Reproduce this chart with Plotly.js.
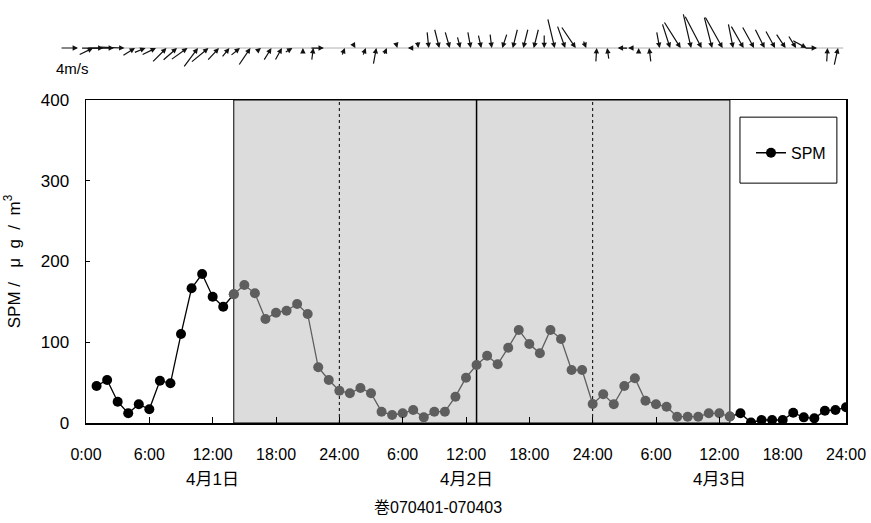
<!DOCTYPE html>
<html>
<head>
<meta charset="utf-8">
<script src="https://cdn.plot.ly/plotly-3.0.1.min.js"></script>
<style>html,body{margin:0;padding:0;background:#fff;}#chart{width:871px;height:523px;}</style>
</head>
<body>
<div id="chart"></div>
<script>
// ---- data ----
const hours = [1,2,3,4,5,6,7,8,9,10,11,12,13,14,15,16,17,18,19,20,21,22,23,24,
               25,26,27,28,29,30,31,32,33,34,35,36,37,38,39,40,41,42,43,44,45,46,47,48,
               49,50,51,52,53,54,55,56,57,58,59,60,61,62,63,64,65,66,67,68,69,70,71,72];
const spm = [45.8,53.3,26.4,12.1,23.2,17.0,52.4,49.2,110.2,166.8,184.5,156.4,144.0,159.4,170.9,160.6,128.8,136.6,139.0,147.4,135.0,69.0,53.3,40.0,
             36.8,43.3,36.8,14.0,9.9,12.0,16.1,7.0,14.0,14.0,32.6,56.1,71.8,83.3,72.7,93.3,115.2,97.8,86.3,115.2,104.0,65.6,65.6,23.5,
             35.5,23.2,45.8,55.4,27.6,23.2,20.2,7.8,7.8,7.8,12.0,12.0,8.0,12.0,0.5,3.7,3.7,3.7,12.8,7.0,5.8,15.2,16.1,19.4];
// wind components (m/s), east (u) and north (v)
const windU = [3.3,5.1,6.0,5.6,2.9,2.7,3.3,3.3,3.3,3.8,3.3,4.0,2.7,1.8,2.2,2.7,1.1,1.8,1.6,1.8,0.0,0.4,3.1,0.0,
               0.7,0.4,0.7,0.7,0.7,0.2,-0.9,0.2,0.4,1.1,1.1,0.7,0.7,0.7,0.4,-1.1,-1.1,-1.1,-1.1,0.0,1.6,1.8,3.3,0.7,
               0.2,-0.4,-2.4,-1.1,0.0,-0.4,0.7,1.8,3.8,1.8,3.8,1.8,4.0,1.1,2.9,2.7,2.2,2.2,2.2,1.8,3.3,2.9,0.2,0.9];
const windV = [1.6,0.0,0.0,-0.2,1.8,1.1,1.6,3.3,2.9,2.7,4.4,3.3,2.9,2.2,1.8,4.0,0.9,2.9,2.9,1.1,1.1,2.9,0.0,0.4,
               1.8,-0.7,1.8,3.8,1.6,-0.7,0.0,-1.6,-3.8,-4.4,-3.8,-2.7,-3.8,-3.1,-3.3,-3.3,-4.4,-4.4,-4.4,-3.1,-6.7,-5.1,-4.9,-1.8,
               3.3,2.7,0.0,0.0,0.7,3.3,-3.8,-5.6,-6.0,-7.8,-7.3,-7.1,-7.1,-5.6,-5.1,-4.9,-4.4,-4.0,-3.3,-2.9,-1.8,0.0,3.3,4.0];
const refWind = 4; // m/s reference arrow
const refLabel = '4m/s';
const tickHours = [0,6,12,18,24,30,36,42,48,54,60,66,72];
const tickLabels = ['0:00','6:00','12:00','18:00','24:00','6:00','12:00','18:00','24:00','6:00','12:00','18:00','24:00'];
const dayHours = [12,36,60];
const dayLabels = ['4月1日','4月2日','4月3日'];
const yTicks = [0,100,200,300,400];
const shadeStart = 14, shadeEnd = 61;
const dottedLines = [24,48];
const solidLines = [37];
const seriesName = 'SPM';
const yTitle = 'SPM\u00a0/\u00a0\u00a0\u00a0\u03bc\u00a0\u00a0g\u00a0\u00a0/\u00a0\u00a0m<sup>3</sup>';
const caption = '巻070401-070403';

// ---- style ----
const FONT = "'Liberation Sans', Arial, 'Noto Sans CJK JP', sans-serif";
const GRAY = '#5e5e5e';
const PXPERMS = 4.5;

const colors = hours.map(h => (h >= shadeStart && h <= shadeEnd) ? GRAY : '#000');
function seg(a, b, lc, show) {
  const idx = hours.map((h,i)=>i).filter(i => hours[i] >= a && hours[i] <= b);
  return {
    x: idx.map(i=>hours[i]), y: idx.map(i=>spm[i]),
    type:'scatter', mode:'lines+markers', name: seriesName, showlegend: show,
    line:{color: lc, width:1.3},
    marker:{color: idx.map(i=>colors[i]), size:10, line:{width:0}},
    xaxis:'x', yaxis:'y', hoverinfo:'skip'
  };
}
const traces = [
  seg(hours[0], shadeStart, '#000', true),
  seg(shadeStart, shadeEnd, GRAY, false),
  seg(shadeEnd, hours[hours.length-1], '#000', false),
  {x:[0.5, 72.5], y:[0,0], type:'scatter', mode:'lines', line:{color:'#b0b0b0', width:1},
   xaxis:'x2', yaxis:'y2', showlegend:false, hoverinfo:'skip'}
];

const annotations = [];
hours.forEach((h,i) => {
  let ax = -windU[i]*PXPERMS, ay = windV[i]*PXPERMS;
  if (Math.abs(ax) < 0.5 && Math.abs(ay) < 0.5) ay = 1;
  annotations.push({x:h, y:0, xref:'x2', yref:'y2', text:'', showarrow:true,
    ax:ax, ay:ay, axref:'pixel', ayref:'pixel', arrowhead:2, arrowsize:0.9, arrowwidth:1.2,
    arrowcolor:'#111', standoff:0});
});
// reference arrow
annotations.push({x:-0.0105, y:0.9036, xref:'paper', yref:'paper', text:'', showarrow:true,
  ax:-refWind*PXPERMS, ay:0, arrowhead:2, arrowsize:0.9, arrowwidth:1.2, arrowcolor:'#111', standoff:0});
annotations.push({x:-0.0184, y:0.855, xref:'paper', yref:'paper', xanchor:'center', yanchor:'middle',
  text:refLabel, showarrow:false, font:{family:FONT, size:15, color:'#000'}});
dayHours.forEach((h,i) => annotations.push({x:h, y:-0.1373, xref:'x', yref:'paper', xanchor:'center', yanchor:'middle',
  text:dayLabels[i], showarrow:false, font:{family:FONT, size:17, color:'#000'}}));
annotations.push({x:0.463, y:-0.2048, xref:'paper', yref:'paper', xanchor:'center', yanchor:'middle',
  text:caption, showarrow:false, font:{family:FONT, size:16, color:'#000'}});

const shapes = [
  {type:'rect', xref:'x', yref:'y', x0:shadeStart, x1:shadeEnd, y0:0, y1:400, fillcolor:'#dcdcdc',
   line:{color:'#000', width:1}, layer:'below'}
];
dottedLines.forEach(h => shapes.push({type:'line', xref:'x', yref:'y', x0:h, x1:h, y0:0, y1:400,
  line:{color:'#000', width:1, dash:'dot'}, layer:'below'}));
solidLines.forEach(h => shapes.push({type:'line', xref:'x', yref:'y', x0:h, x1:h, y0:0, y1:400,
  line:{color:'#000', width:1.5}, layer:'below'}));
shapes.push({type:'rect', xref:'paper', yref:'paper', x0:0.8605, x1:0.988, y0:0.578, y1:0.737,
  fillcolor:'#fff', line:{color:'#000', width:1}, layer:'above'});

const layout = {
  width:871, height:523,
  margin:{l:86, r:25, t:8, b:100},
  paper_bgcolor:'#fff', plot_bgcolor:'#fff',
  showlegend:true,
  legend:{x:0.875, xanchor:'left', y:0.651, yanchor:'middle', bgcolor:'rgba(0,0,0,0)',
          borderwidth:0, font:{family:FONT, size:16, color:'#000'}},
  xaxis:{domain:[0,1], range:[0,72], tickmode:'array', tickvals:tickHours, ticktext:tickLabels,
         ticks:'inside', ticklen:6, tickwidth:1, tickcolor:'#000', showline:true, linecolor:'#000',
         linewidth:1.5, mirror:true, showgrid:false, zeroline:false, anchor:'y',
         ticklabelstandoff:16, tickfont:{family:FONT, size:16, color:'#000'}},
  yaxis:{domain:[0,0.7783], range:[0,400], tickmode:'array', tickvals:yTicks,
         ticks:'inside', ticklen:4, tickwidth:1, tickcolor:'#000', showline:true, linecolor:'#000',
         linewidth:1.5, mirror:true, showgrid:false, zeroline:false, anchor:'x',
         ticklabelstandoff:12, tickfont:{family:FONT, size:17, color:'#000'},
         title:{text:yTitle, standoff:16, font:{family:FONT, size:17, color:'#000'}}},
  xaxis2:{domain:[0,1], range:[0.33,72.76], visible:false, anchor:'y2', fixedrange:true},
  yaxis2:{domain:[0.8265,1], range:[-0.444,0.556], visible:false, anchor:'x2', fixedrange:true},
  shapes:shapes,
  annotations:annotations
};

Plotly.newPlot('chart', traces, layout, {staticPlot:true, displayModeBar:false});
</script>
</body>
</html>
